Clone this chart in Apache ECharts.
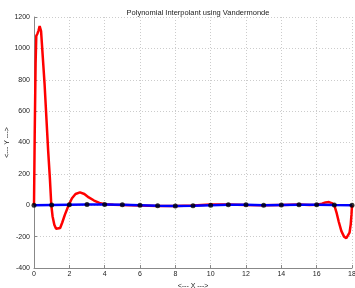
<!DOCTYPE html>
<html>
<head>
<meta charset="utf-8">
<script src="https://cdn.jsdelivr.net/npm/echarts@6/dist/echarts.min.js"></script>
<style>
  html, body { margin: 0; padding: 0; background: #fff; }
  #chart { width: 355px; height: 288px; }
</style>
</head>
<body>
<div id="chart"></div>
<script>
// data nodes (x = 0..18) and their values
const nodeX = [0, 1, 2, 3, 4, 5, 6, 7, 8, 9, 10, 11, 12, 13, 14, 15, 16, 17, 18];
const nodeY = [0, 2, 3, 4, 5, 3, 0, -3, -4, -3, 0, 3, 3, 0, 2, 3, 3, 1, 0];

// interpolating polynomial
const polyX = [0, 0.04, 0.09, 0.13, 0.2, 0.26, 0.32, 0.4, 0.6, 0.8, 0.9, 0.98, 1.05, 1.15, 1.25, 1.36, 1.48, 1.6, 1.75, 1.96,
  2.15, 2.35, 2.6, 2.85, 3.1, 3.4, 3.7, 4, 4.5, 5, 6, 7, 8, 9, 10, 11, 12, 13, 14, 15, 15.6, 16, 16.3, 16.5, 16.7, 16.85,
  17, 17.12, 17.25, 17.4, 17.55, 17.68, 17.78, 17.86, 17.93, 17.97, 18];
const polyY = [0, 450, 900, 1080, 1095, 1115, 1142, 1110, 770, 350, 170, 0, -70, -125, -150, -157, -145, -110, -60, 0,
  45, 72, 82, 72, 50, 30, 15, 6, 3, 2, -2, -4, -4, -2, 4, 5, 2, 0, 2, 4, 2, 3, 10, 18, 20, 14,
  0, -45, -105, -165, -200, -210, -205, -175, -120, -60, 0];

const yTicks = [-400, -200, 0, 200, 400, 600, 800, 1000, 1200];
const xTicks = [0, 2, 4, 6, 8, 10, 12, 14, 16, 18];

const font = 'Liberation Sans, Arial, sans-serif';
const chart = echarts.init(document.getElementById('chart'), null, { renderer: 'canvas' });

const option = {
  backgroundColor: '#fff',
  animation: false,
  title: {
    text: 'Polynomial Interpolant using Vandermonde',
    left: 193,
    top: 4,
    textAlign: 'center',
    textStyle: { fontFamily: font, fontSize: 7.5, fontWeight: 'normal', color: '#222' }
  },
  grid: { left: 34, right: 3, top: 17, bottom: 20, containLabel: false, outerBoundsMode: 'none' },
  xAxis: {
    type: 'value',
    min: xTicks[0],
    max: xTicks[xTicks.length - 1],
    interval: 2,
    name: '<--- X --->',
    nameLocation: 'middle',
    nameGap: 13,
    nameTextStyle: { fontFamily: font, fontSize: 7, color: '#222' },
    axisLine: { show: true, onZero: false, lineStyle: { color: '#888', width: 1 } },
    axisTick: { show: true, inside: true, length: 3, lineStyle: { color: '#888' } },
    axisLabel: { fontFamily: font, fontSize: 7, color: '#222', margin: 3 },
    splitLine: { show: true, lineStyle: { color: '#ccc', type: [1, 2], width: 1 } }
  },
  yAxis: {
    type: 'value',
    min: yTicks[0],
    max: yTicks[yTicks.length - 1],
    interval: 200,
    name: '<--- Y --->',
    nameLocation: 'middle',
    nameGap: 23,
    nameRotate: 90,
    nameMoveOverlap: false,
    nameTextStyle: { fontFamily: font, fontSize: 7, color: '#222' },
    axisLine: { show: true, onZero: false, lineStyle: { color: '#888', width: 1 } },
    axisTick: { show: true, inside: true, length: 3, lineStyle: { color: '#888' } },
    axisLabel: { fontFamily: font, fontSize: 7, color: '#222', margin: 4, formatter: v => String(v) },
    splitLine: { show: true, lineStyle: { color: '#ccc', type: [1, 2], width: 1 } }
  },
  series: [
    {
      type: 'line',
      data: polyX.map((x, i) => [x, polyY[i]]),
      showSymbol: false,
      smooth: false,
      lineStyle: { color: '#ff0000', width: 2.5 },
      z: 2
    },
    {
      type: 'line',
      data: nodeX.map((x, i) => [x, nodeY[i]]),
      showSymbol: false,
      lineStyle: { color: '#0000ff', width: 2.5 },
      z: 3
    },
    {
      type: 'scatter',
      data: nodeX.map((x, i) => [x, nodeY[i]]),
      symbol: 'circle',
      symbolSize: 5,
      itemStyle: { color: '#000' },
      z: 4
    }
  ]
};

chart.setOption(option);
</script>
</body>
</html>
